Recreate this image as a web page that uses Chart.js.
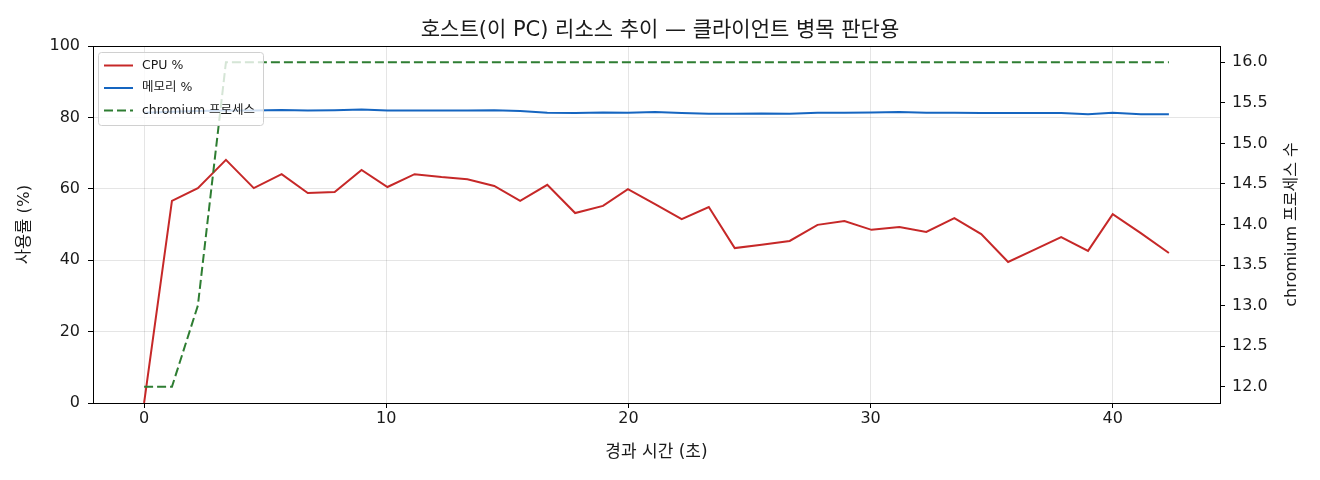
<!DOCTYPE html>
<html>
<head>
<meta charset="utf-8">
<script src="https://cdn.jsdelivr.net/npm/chart.js@4"></script>
<style>
  body { margin: 0; background: #fff; }
  #wrap { width: 1320px; height: 480px; }
</style>
</head>
<body>
<div id="wrap"><canvas id="host-chart"></canvas></div>
<script>
// Data
const elapsedSec = [0, 1.15, 2.22, 3.38, 4.53, 5.68, 6.76, 7.87, 8.98, 10.05, 11.17, 12.28, 13.35, 14.46, 15.53, 16.65, 17.8, 18.95, 19.98, 21.1,
  22.2, 23.32, 24.39, 25.5, 26.66, 27.81, 28.92, 30.04, 31.19, 32.3, 33.46, 34.57, 35.68, 36.75, 37.87, 38.98, 40.0, 41.16, 42.32];
const cpuPct = [0, 56.6, 60.2, 68.1, 60.2, 64.1, 58.8, 59.1, 65.3, 60.5, 64.1, 63.3, 62.7, 60.8, 56.6, 61.1, 53.2, 55.2, 59.9, 55.7,
  51.5, 54.9, 43.4, 44.3, 45.4, 49.9, 51.0, 48.5, 49.3, 47.9, 51.8, 47.3, 39.5, 42.9, 46.5, 42.6, 52.9, 47.6, 42.0];
const memPct = [81.3, 81.6, 81.8, 81.9, 81.9, 82.1, 81.9, 82.0, 82.2, 81.9, 81.9, 81.9, 81.9, 82.0, 81.8, 81.3, 81.2, 81.4, 81.3, 81.5,
  81.2, 81.0, 81.0, 81.1, 81.0, 81.3, 81.3, 81.4, 81.5, 81.3, 81.3, 81.2, 81.2, 81.2, 81.2, 80.9, 81.3, 80.9, 80.9];
const chromiumProcs = [12, 12, 13, 16, 16, 16, 16, 16, 16, 16, 16, 16, 16, 16, 16, 16, 16, 16, 16, 16,
  16, 16, 16, 16, 16, 16, 16, 16, 16, 16, 16, 16, 16, 16, 16, 16, 16, 16, 16];

const xTicks = [0, 10, 20, 30, 40];
const pctTicks = [0, 20, 40, 60, 80, 100];
const procTicks = [12.0, 12.5, 13.0, 13.5, 14.0, 14.5, 15.0, 15.5, 16.0];

// DejaVu for latin/digits, Noto CJK picks up the hangul
const FONT = "'DejaVu Sans', 'Noto Sans CJK KR', sans-serif";
const GRID = "rgba(0,0,0,0.1)";
const INK = "#1a1a1a";

const toPoints = (ys) => ys.map((y, i) => ({ x: elapsedSec[i], y }));
const fixTicks = (list) => (scale) => { scale.ticks = list.map((v) => ({ value: v })); };

// frame + in-plot legend + right axis title (reads bottom to top like the reference)
const extrasPlugin = {
  id: "extras",
  afterDraw(chart) {
    const { ctx, chartArea: a } = chart;
    ctx.save();
    ctx.strokeStyle = "#000";
    ctx.lineWidth = 1;
    ctx.strokeRect(a.left + 0.5, a.top + 0.5, a.right - a.left, a.bottom - a.top);

    // legend box
    const bx = a.left + 5, by = a.top + 6, bw = 165, bh = 73;
    ctx.beginPath();
    ctx.roundRect(bx + 0.5, by + 0.5, bw, bh, 3);
    ctx.fillStyle = "rgba(255,255,255,0.8)";
    ctx.fill();
    ctx.strokeStyle = "#d0d0d0";
    ctx.stroke();
    ctx.font = `12.5px ${FONT}`;
    ctx.textBaseline = "middle";
    chart.data.datasets.forEach((ds, i) => {
      const y = by + 13.5 + i * 22.5;
      ctx.beginPath();
      ctx.strokeStyle = ds.borderColor;
      ctx.lineWidth = 2;
      ctx.setLineDash(ds.borderDash || []);
      ctx.moveTo(bx + 6, y);
      ctx.lineTo(bx + 35, y);
      ctx.stroke();
      ctx.setLineDash([]);
      ctx.fillStyle = INK;
      ctx.fillText(ds.label, bx + 44, y);
    });

    // right axis title
    const r = chart.scales.y1;
    ctx.translate(r.right - 28, (a.top + a.bottom) / 2);
    ctx.rotate(-Math.PI / 2);
    ctx.font = `16px ${FONT}`;
    ctx.fillStyle = INK;
    ctx.textAlign = "center";
    ctx.textBaseline = "middle";
    ctx.fillText("chromium 프로세스 수", 0, 0);
    ctx.restore();
  }
};

const tickFont = { family: FONT, size: 16, lineHeight: 1 };

new Chart(document.getElementById("host-chart"), {
  type: "line",
  data: {
    datasets: [
      { label: "CPU %", data: toPoints(cpuPct), yAxisID: "y", borderColor: "#c62828", borderWidth: 2, pointRadius: 0, tension: 0, order: 2 },
      { label: "메모리 %", data: toPoints(memPct), yAxisID: "y", borderColor: "#1565c0", borderWidth: 2, pointRadius: 0, tension: 0, order: 1 },
      { label: "chromium 프로세스", data: toPoints(chromiumProcs), yAxisID: "y1", borderColor: "#2e7d32", borderWidth: 2, borderDash: [9, 4], pointRadius: 0, tension: 0, order: 0 }
    ]
  },
  options: {
    responsive: true,
    maintainAspectRatio: false,
    devicePixelRatio: 1,
    animation: false,
    layout: { padding: 0 },
    plugins: {
      legend: { display: false },
      tooltip: { enabled: false },
      title: {
        display: true,
        text: "호스트(이 PC) 리소스 추이 — 클라이언트 병목 판단용",
        color: INK,
        font: { family: FONT, size: 21, weight: "normal", lineHeight: 1.2 },
        padding: { top: 18, bottom: 2.8 }
      }
    },
    scales: {
      x: {
        type: "linear",
        min: -2.11,
        max: 44.43,
        afterBuildTicks: fixTicks(xTicks),
        afterFit: (s) => { s.height = 77; },
        ticks: { color: INK, font: tickFont, padding: 3, maxRotation: 0 },
        grid: { color: GRID, tickColor: "#000", tickLength: 5 },
        border: { display: true, color: "#000" },
        title: { display: true, text: "경과 시간 (초)", color: INK, font: { family: FONT, size: 17, lineHeight: 1.2 }, padding: { top: 0, bottom: 17 } }
      },
      y: {
        position: "left",
        min: 0,
        max: 100,
        afterBuildTicks: fixTicks(pctTicks),
        afterFit: (s) => { s.width = 93; },
        ticks: { color: INK, font: tickFont, padding: 8 },
        grid: { color: GRID, tickColor: "#000", tickLength: 5 },
        border: { display: true, color: "#000" },
        title: { display: true, text: "사용률 (%)", color: INK, font: { family: FONT, size: 16.5, lineHeight: 1.2 }, padding: { top: 15, bottom: 0 } }
      },
      y1: {
        position: "right",
        min: 11.8,
        max: 16.2,
        afterBuildTicks: fixTicks(procTicks),
        afterFit: (s) => { s.width = 100; },
        ticks: { color: INK, font: tickFont, padding: 7, callback: (v) => Number(v).toFixed(1) },
        grid: { drawOnChartArea: false, tickColor: "#000", tickLength: 5 },
        border: { display: true, color: "#000" }
      }
    }
  },
  plugins: [extrasPlugin]
});
</script>
</body>
</html>
